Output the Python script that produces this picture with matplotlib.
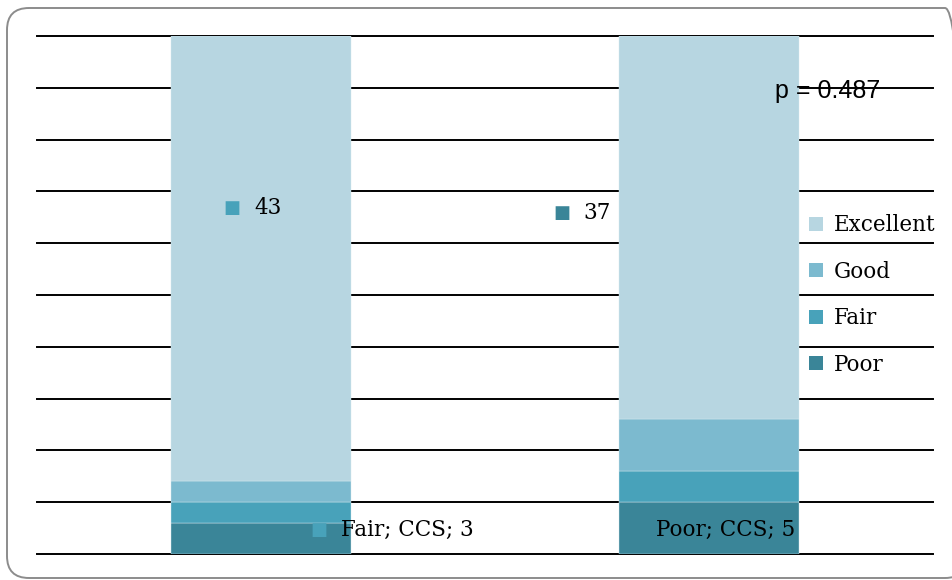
import matplotlib
matplotlib.use("Agg")
import matplotlib.pyplot as plt
from matplotlib.patches import FancyBboxPatch, Patch
import numpy as np

# ---------------------------------------------------------------------------
# Data: rating counts per group, stacked bottom-up Poor -> Excellent
# ---------------------------------------------------------------------------
categories = ["Control", "CCS"]
poor = [3, 5]
fair = [2, 3]
good = [2, 5]
excellent = [43, 37]
p_value = 0.487

SERIES = ["Poor", "Fair", "Good", "Excellent"]
COLORS = {
    "Poor": "#3a8598",
    "Fair": "#48a2ba",
    "Good": "#7cbacf",
    "Excellent": "#b7d6e1",
}

SERIF = "DejaVu Serif"
FS = 15.5

fig = plt.figure(figsize=(9.52, 5.80), dpi=100)
ax = fig.add_axes([37 / 952, 26 / 580, 896 / 952, 518 / 580])

x = np.arange(len(categories))
width = 0.4
bottom = np.zeros(len(categories))
for name, vals in zip(SERIES, [poor, fair, good, excellent]):
    ax.bar(x, vals, width, bottom=bottom, color=COLORS[name],
           edgecolor="#d8eaf0", linewidth=0.3, zorder=2, label=name)
    bottom += np.array(vals)

ax.set_xlim(-0.5, 1.5)
ax.set_ylim(0, 50)
for y in np.arange(0, 51, 5):
    ax.axhline(y, color="black", linewidth=1.4, zorder=1, clip_on=False)
for s in ax.spines.values():
    s.set_visible(False)
ax.set_xticks([])
ax.set_yticks([])


def data_label(xp, yp, text, marker_color=None):
    """Excel-style data label: optional colored key square then text."""
    if marker_color is not None:
        ax.text(xp, yp, "\u25a0", color=marker_color, fontsize=FS - 2.5,
                family="DejaVu Sans", ha="right", va="center", zorder=3)
        xp = xp + 0.03
    ax.text(xp, yp, text, fontsize=FS, family=SERIF, ha="left",
            va="center", zorder=3)


data_label(-0.045, 33.4, f"{excellent[0]}", COLORS["Fair"])
data_label(0.69, 32.9, f"{excellent[1]}", COLORS["Poor"])
data_label(0.148, 2.3, f"Fair; {categories[1]}; {fair[1]}", COLORS["Fair"])
ax.text(1.193, 2.3, f"Poor; {categories[1]}; {poor[1]}", fontsize=FS,
        family=SERIF, ha="right", va="center", zorder=3)

ax.text(1.147, 44.7, f"p = {p_value}", fontsize=18, family="Liberation Sans",
        ha="left", va="center", zorder=3)

handles = [Patch(facecolor=COLORS[n], edgecolor="none") for n in SERIES[::-1]]
leg = ax.legend(handles, SERIES[::-1], loc="upper left",
                bbox_to_anchor=(0.862, 0.656), frameon=False,
                prop={"family": SERIF, "size": FS},
                handlelength=0.64, handleheight=0.64, handletextpad=0.5,
                labelspacing=1.14, borderaxespad=0, borderpad=0)
leg.set_zorder(3)

# rounded outer frame
frame = FancyBboxPatch((0.07, 0.02), 9.6, 5.70,
                       boxstyle="round,pad=0,rounding_size=0.22",
                       transform=fig.dpi_scale_trans, facecolor="none",
                       edgecolor="#8c8c8c", linewidth=1.4)
fig.patches.append(frame)

fig.savefig("out.png", dpi=100)
